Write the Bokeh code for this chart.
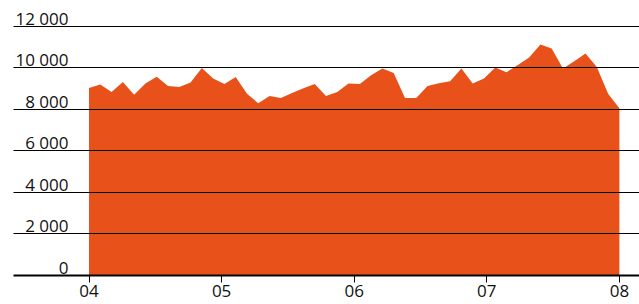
from bokeh.plotting import figure
from bokeh.models import Range1d, FixedTicker, ColumnDataSource
from bokeh.core.properties import value
from bokeh.embed import file_html
from bokeh.resources import INLINE

# Monthly values, Jan 2004 .. end 2007
values = [9030, 9200, 8840, 9320, 8710, 9250, 9580, 9130, 9080, 9300, 10000, 9490,
          9230, 9560, 8760, 8300, 8650, 8550, 8800, 9020, 9230, 8650, 8840, 9250,
          9230, 9650, 9970, 9760, 8550, 8550, 9130, 9270, 9360, 9970, 9250, 9490,
          10020, 9800, 10150, 10500, 11130, 10940, 9970, 10320, 10700, 10050, 8760, 8060]
year_ticks = [4, 5, 6, 7, 8]
year_labels = ["04", "05", "06", "07", "08"]
y_ticks = [0, 2000, 4000, 6000, 8000, 10000, 12000]
y_labels = ["0", "2 000", "4 000", "6 000", "8 000", "10 000", "12 000"]

n = len(values)
xs = [year_ticks[0] + (year_ticks[-1] - year_ticks[0]) * i / (n - 1) for i in range(n)]

FONT = "Open Sans"
ORANGE = "#E8521A"

x0, x1 = 3.4306, 8.1516
p = figure(width=639, height=304, output_backend="svg", toolbar_location=None,
           x_range=Range1d(x0, x1), y_range=Range1d(0, 12867),
           min_border_left=13, min_border_right=0, min_border_top=8, min_border_bottom=29)
p.outline_line_color = None
p.background_fill_color = "white"
p.border_fill_color = "white"

src = ColumnDataSource(dict(x=xs, y=values, z=[0] * n))
p.varea(x="x", y1="z", y2="y", source=src, fill_color=ORANGE)

# grid
p.xgrid.visible = False
p.ygrid.ticker = FixedTicker(ticks=y_ticks)
p.ygrid.grid_line_color = "black"
p.ygrid.grid_line_width = 1
p.ygrid.level = "annotation"
p.yaxis.visible = False

# x axis
ax = p.xaxis[0]
ax.ticker = FixedTicker(ticks=year_ticks)
ax.major_label_overrides = {t: l for t, l in zip(year_ticks, year_labels)}
ax.axis_line_color = "black"
ax.axis_line_width = 2
ax.major_tick_line_color = "black"
ax.major_tick_line_width = 1
ax.major_tick_out = 7
ax.major_tick_in = 0
ax.minor_tick_out = 0
ax.minor_tick_in = 0
ax.major_label_text_font = FONT
ax.major_label_text_font_size = "17px"
ax.major_label_text_color = "#111111"
ax.major_label_standoff = 2

# y labels above gridlines
px_per_year = 626 / (x1 - x0)
lab_x = x0 + 55 / px_per_year
p.text(x=[lab_x] * len(y_ticks), y=y_ticks, text=y_labels,
       text_font=value(FONT), text_font_size="17px", text_color="#111111",
       text_align="right", text_baseline="alphabetic", y_offset=-8)

open("out.html", "w").write(file_html(p, INLINE))
